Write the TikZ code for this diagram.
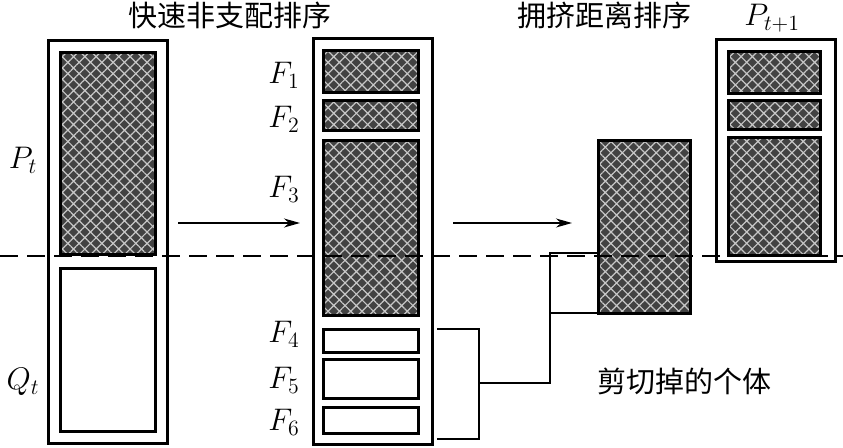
\RequirePackage{fix-cm}
\documentclass[tikz,border=0pt]{standalone}
\usepackage{fontspec}
\usepackage{tikz}
\usetikzlibrary{patterns.meta,arrows.meta}
\newfontfamily\cjk{Noto Sans CJK SC}

\begin{document}
\begin{tikzpicture}[x=1pt, y=-1pt,
		box/.style={draw, line width=3pt, inner sep=0pt, outer sep=0pt, anchor=north west},
		elite/.style={box, preaction={fill=black!74}, pattern={Hatch[angle=45,distance=8pt,line width=1.2pt]}, pattern color=black!22},
		plain/.style={box, fill=white},
		lbl/.style={font=\fontsize{24}{28}\selectfont, scale=1.3},
		cn/.style={font=\cjk\fontsize{29}{31}\selectfont},
		link/.style={line width=1.8pt}]
		\useasboundingbox (0,0) rectangle (843,447);
		% population P_t and Q_t
		\node[box, minimum width=119pt, minimum height=403pt] (R) at (48,40) {};
		\node[elite, minimum width=95pt, minimum height=202pt] (P) at (60,52) {};
		\node[plain, minimum width=95pt, minimum height=163pt] (Q) at (60,268) {};
		\node[lbl] at (23,160) {$P_t$};
		\node[lbl] at (23,382) {$Q_t$};
		% fronts
		\node[box, minimum width=119pt, minimum height=406pt] (M) at (313,38) {};
		\node[elite, minimum width=95pt, minimum height=42pt] (F1) at (323,50) {};
		\node[elite, minimum width=95pt, minimum height=30pt] (F2) at (323,100) {};
		\node[elite, minimum width=95pt, minimum height=175pt] (F3) at (323,140) {};
		\node[plain, minimum width=95pt, minimum height=23pt] (F4) at (323,329) {};
		\node[plain, minimum width=95pt, minimum height=39pt] (F5) at (323,359) {};
		\node[plain, minimum width=95pt, minimum height=26pt] (F6) at (323,407) {};
		\foreach \i/\y in {1/75,2/119,3/189,4/334,5/380,6/422}
			\node[lbl] at (284,\y) {$F_{\i}$};
		% crowding distance
		\node[elite, minimum width=92pt, minimum height=173pt] (C) at (598,140) {};
		% next population
		\node[box, minimum width=119pt, minimum height=222pt] (N) at (716,39) {};
		\node[elite, minimum width=92pt, minimum height=42pt] (N1) at (728,51) {};
		\node[elite, minimum width=92pt, minimum height=29pt] (N2) at (728,100) {};
		\node[elite, minimum width=92pt, minimum height=118pt] (N3) at (728,137) {};
		\node[lbl] at (772,18) {$P_{t+1}$};
		% titles
		\node[cn] at (230,15) {快速非支配排序};
		\node[cn] at (604,15) {拥挤距离排序};
		\node[cn] at (684,381) {剪切掉的个体};
		% arrows
		\coordinate (a1) at (178,223);
		\coordinate (a2) at (300,223);
		\coordinate (b1) at (453,223);
		\coordinate (b2) at (572,223);
		\draw[line width=1.3pt, -{Stealth[length=16pt,width=9pt,inset=5pt]}] (a1) -- (a2);
		\draw[line width=1.3pt, -{Stealth[length=16pt,width=9pt,inset=5pt]}] (b1) -- (b2);
		% cut line
		\draw[line width=1.4pt, dash pattern=on 18pt off 9pt] (0,256) -- (843,256);
		% brackets
		\coordinate (k1) at (479,329);
		\coordinate (k2) at (479,439);
		\coordinate (k3) at (550,383);
		\draw[link] ([xshift=5pt]M.east |- F4.north) -- (k1) -- (k2) -- ([xshift=5pt]M.east |- k2);
		\draw[link] (k1 |- k3) -- (k3) -- (k3 |- 0,253) -- (C.west |- 0,253);
		\draw[link] (k3 |- C.south) -- (C.south west);
	\end{tikzpicture}
\end{document}
